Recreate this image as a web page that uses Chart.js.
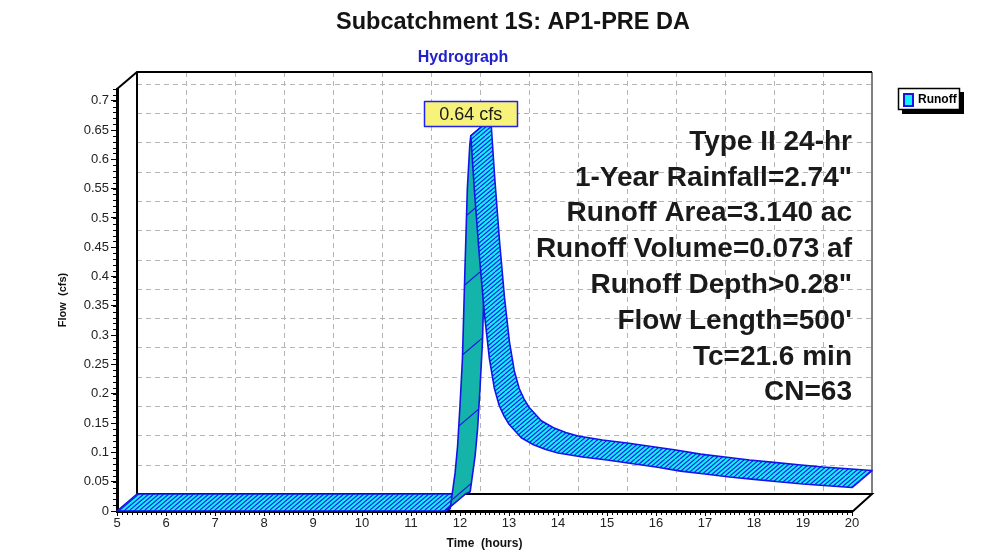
<!DOCTYPE html>
<html><head><meta charset="utf-8">
<script src="https://cdn.jsdelivr.net/npm/chart.js@4.4.1/dist/chart.umd.min.js"></script>
<style>html,body{margin:0;padding:0;background:#fff;}#wrap{width:984px;height:553px;position:relative;}</style>
</head><body><div id="wrap"><canvas id="c" width="984" height="553"></canvas></div>
<script>
const chartTitle = 'Subcatchment 1S: AP1-PRE DA';
const chartSubtitle = 'Hydrograph';
const seriesName = 'Runoff';
const xAxisTitle = 'Time  (hours)';
const yAxisTitle = 'Flow  (cfs)';
const timeHours = [5, 11.7, 11.8, 11.9, 11.95, 12.0, 12.05, 12.1, 12.15, 12.2, 12.22, 12.3, 12.4, 12.5, 12.6, 12.7, 12.8, 12.9, 13.0, 13.25, 13.5, 13.75, 14.0, 14.5, 15.0, 15.5, 16.0, 16.5, 17.0, 17.5, 18.0, 18.5, 19.0, 19.5, 20.0];
const runoffCfs = [0, 0, 0.004, 0.065, 0.11, 0.18, 0.26, 0.41, 0.55, 0.625, 0.64, 0.54, 0.43, 0.335, 0.26, 0.21, 0.18, 0.162, 0.148, 0.125, 0.113, 0.105, 0.099, 0.092, 0.087, 0.081, 0.075, 0.068, 0.063, 0.058, 0.054, 0.050, 0.046, 0.043, 0.040];
const xTickValues = [5,6,7,8,9,10,11,12,13,14,15,16,17,18,19,20];
const xTickLabels = ['5','6','7','8','9','10','11','12','13','14','15','16','17','18','19','20'];
const yTickValues = [0,0.05,0.1,0.15,0.2,0.25,0.3,0.35,0.4,0.45,0.5,0.55,0.6,0.65,0.7];
const yTickLabels = ['0','0.05','0.1','0.15','0.2','0.25','0.3','0.35','0.4','0.45','0.5','0.55','0.6','0.65','0.7'];
const peakLabel = '0.64 cfs';
const infoLines = ['Type II 24-hr', '1-Year Rainfall=2.74"', 'Runoff Area=3.140 ac', 'Runoff Volume=0.073 af', 'Runoff Depth>0.28"', "Flow Length=500'", 'Tc=21.6 min', 'CN=63'];

const FONT = "'Liberation Sans', Arial, sans-serif";
const DX = 20, DY = -17;
const CYAN = '#12f2fb', TEAL = '#14b4aa', BLUE = '#1414e6';

function makePattern(w, h, step, color, lw) {
  const c = document.createElement('canvas'); c.width = w; c.height = h;
  const g = c.getContext('2d');
  g.strokeStyle = color; g.lineWidth = lw;
  for (let k = -w; k <= w; k += step) {
    g.beginPath(); g.moveTo(k, h); g.lineTo(k + w, 0); g.stroke();
  }
  return c;
}

const depthPlugin = {
  id: 'depth3d',
  beforeDatasetsDraw(chart) {
    const {ctx, chartArea: a, scales: {x, y}} = chart;
    ctx.save();
    ctx.strokeStyle = '#b4b4b4'; ctx.lineWidth = 1; ctx.setLineDash([5, 4]);
    yTickValues.forEach(v => {
      if (v === 0) return;
      const py = Math.round(y.getPixelForValue(v) + DY) + 0.5;
      ctx.beginPath(); ctx.moveTo(a.left + DX, py); ctx.lineTo(a.right + DX, py); ctx.stroke();
    });
    xTickValues.forEach(v => {
      if (v === x.min || v === x.max) return;
      const px = Math.round(x.getPixelForValue(v) + DX) + 0.5;
      ctx.beginPath(); ctx.moveTo(px, a.top + DY); ctx.lineTo(px, a.bottom + DY); ctx.stroke();
    });
    ctx.setLineDash([]);
    ctx.strokeStyle = '#000'; ctx.lineWidth = 2;
    ctx.beginPath();
    ctx.moveTo(a.left, a.top); ctx.lineTo(a.left + DX, a.top + DY);
    ctx.lineTo(a.right + DX, a.top + DY);
    ctx.moveTo(a.left + DX, a.top + DY); ctx.lineTo(a.left + DX, a.bottom + DY);
    ctx.lineTo(a.right + DX, a.bottom + DY); ctx.lineTo(a.right, a.bottom + 1);
    ctx.stroke();
    ctx.lineWidth = 1;
    ctx.beginPath(); ctx.moveTo(a.right + DX, a.top + DY); ctx.lineTo(a.right + DX, a.bottom + DY); ctx.stroke();
    // minor ruler ticks on the front axes
    ctx.strokeStyle = '#000'; ctx.lineWidth = 1;
    ctx.beginPath();
    for (let k = 0; k <= 72; k++) {
      const py = Math.round(y.getPixelForValue(k / 100)) + 0.5;
      ctx.moveTo(a.left - 4, py); ctx.lineTo(a.left, py);
    }
    for (let k = 50; k <= 200; k++) {
      const px = Math.round(x.getPixelForValue(k / 10)) + 0.5;
      ctx.moveTo(px, a.bottom); ctx.lineTo(px, a.bottom + 4);
    }
    ctx.stroke();
    ctx.restore();
  },
  afterDatasetsDraw(chart) {
    const {ctx, chartArea: a} = chart;
    const pts = chart.getDatasetMeta(0).data.map(p => ({x: p.x, y: p.y}));
    const strips = [];
    let cur = null;
    for (let i = 0; i < pts.length - 1; i++) {
      const rising = runoffCfs[i + 1] > runoffCfs[i];
      if (!cur || cur.rising !== rising) { cur = {rising, from: i, to: i + 1}; strips.push(cur); }
      else cur.to = i + 1;
    }
    const cyanPat = ctx.createPattern(makePattern(20, 17, 5, BLUE, 1.1), 'repeat');
    const tealPat = ctx.createPattern(makePattern(80, 68, 80, BLUE, 1.1), 'repeat');
    ctx.save();
    strips.forEach(s => {
      ctx.beginPath();
      for (let i = s.from; i <= s.to; i++) {
        if (i === s.from) ctx.moveTo(pts[i].x, pts[i].y); else ctx.lineTo(pts[i].x, pts[i].y);
      }
      for (let i = s.to; i >= s.from; i--) ctx.lineTo(pts[i].x + DX, pts[i].y + DY);
      ctx.closePath();
      ctx.fillStyle = s.rising ? TEAL : CYAN; ctx.fill();
      ctx.fillStyle = s.rising ? tealPat : cyanPat; ctx.fill();
      ctx.strokeStyle = BLUE; ctx.lineWidth = 1.6; ctx.lineJoin = 'round'; ctx.stroke();
    });
    // peak label
    let pk = 0;
    runoffCfs.forEach((v, i) => { if (v > runoffCfs[pk]) pk = i; });
    const p = pts[pk];
    ctx.font = '18px ' + FONT;
    const tw = ctx.measureText(peakLabel).width;
    const bw = Math.round(tw + 30), bh = 25;
    const bx = Math.round(p.x - bw / 2) + 0.5, by = Math.round(p.y - 10 - bh) + 0.5;
    ctx.fillStyle = '#f7f37a'; ctx.fillRect(bx, by, bw, bh);
    ctx.strokeStyle = '#2020f0'; ctx.lineWidth = 1.5; ctx.strokeRect(bx, by, bw, bh);
    ctx.fillStyle = '#1a1a1a'; ctx.textAlign = 'center'; ctx.textBaseline = 'middle';
    ctx.fillText(peakLabel, p.x, by + bh / 2 + 1);
    // info text
    ctx.font = 'bold 28px ' + FONT;
    ctx.fillStyle = '#1a1a1a'; ctx.textAlign = 'right'; ctx.textBaseline = 'middle';
    infoLines.forEach((t, i) => ctx.fillText(t, a.right, a.top + 53 + i * 35.8));
    ctx.restore();
  },
  afterDraw(chart) {
    const {ctx} = chart;
    ctx.save();
    ctx.textAlign = 'center'; ctx.textBaseline = 'middle';
    ctx.font = 'bold 23.5px ' + FONT; ctx.fillStyle = '#141414';
    ctx.fillText(chartTitle, 513, 23);
    ctx.font = 'bold 16px ' + FONT; ctx.fillStyle = '#2222cc';
    ctx.fillText(chartSubtitle, 463, 58);
    // legend
    ctx.fillStyle = '#000'; ctx.fillRect(902, 92, 62, 22);
    ctx.fillStyle = '#fff'; ctx.fillRect(898, 88, 62, 22);
    ctx.strokeStyle = '#000'; ctx.lineWidth = 1.5; ctx.strokeRect(898.5, 88.5, 61, 21);
    ctx.fillStyle = CYAN; ctx.fillRect(904, 94, 9, 12);
    ctx.strokeStyle = BLUE; ctx.lineWidth = 2; ctx.strokeRect(904, 94, 9, 12);
    ctx.fillStyle = '#000'; ctx.font = 'bold 12px ' + FONT; ctx.textAlign = 'left';
    ctx.fillText(seriesName, 918, 100);
    ctx.restore();
  }
};

new Chart(document.getElementById('c').getContext('2d'), {
  type: 'line',
  data: { datasets: [{ label: seriesName, data: timeHours.map((t, i) => ({x: t, y: runoffCfs[i]})), showLine: false, pointRadius: 0, pointHoverRadius: 0, borderWidth: 0 }] },
  options: {
    responsive: false, animation: false, events: [],
    layout: { padding: { left: 52, top: 89, right: 132, bottom: 1 } },
    plugins: { legend: {display: false}, title: {display: false}, tooltip: {enabled: false} },
    scales: {
      x: {
        type: 'linear', min: 5, max: 20, z: 1,
        afterBuildTicks: s => { s.ticks = xTickValues.map(v => ({value: v})); },
        afterFit: s => { s.height = 553 - 1 - 511; },
        grid: { display: true, drawOnChartArea: false, drawTicks: true, tickLength: 5, color: '#000', tickWidth: 1 },
        border: { display: true, color: '#000', width: 3 },
        ticks: { color: '#222', font: {family: FONT, size: 13}, padding: 0, maxRotation: 0, autoSkip: false, callback: (v, i) => xTickLabels[i] },
        title: { display: true, text: xAxisTitle, color: '#111', font: {family: FONT, size: 12, weight: 'bold'}, padding: {top: 0, bottom: 1} }
      },
      y: {
        type: 'linear', min: 0, max: 0.72,
        afterBuildTicks: s => { s.ticks = yTickValues.map(v => ({value: v})); },
        afterFit: s => { s.width = 117 - 52; },
        grid: { display: true, drawOnChartArea: false, drawTicks: true, tickLength: 6, color: '#000', tickWidth: 1 },
        border: { display: true, color: '#000', width: 3 },
        ticks: { color: '#222', font: {family: FONT, size: 13}, padding: 2, autoSkip: false, callback: (v, i) => yTickLabels[i] },
        title: { display: true, text: yAxisTitle, color: '#111', font: {family: FONT, size: 11, weight: 'bold'}, padding: {top: 4, bottom: 0} }
      }
    }
  },
  plugins: [depthPlugin]
});
</script></body></html>
